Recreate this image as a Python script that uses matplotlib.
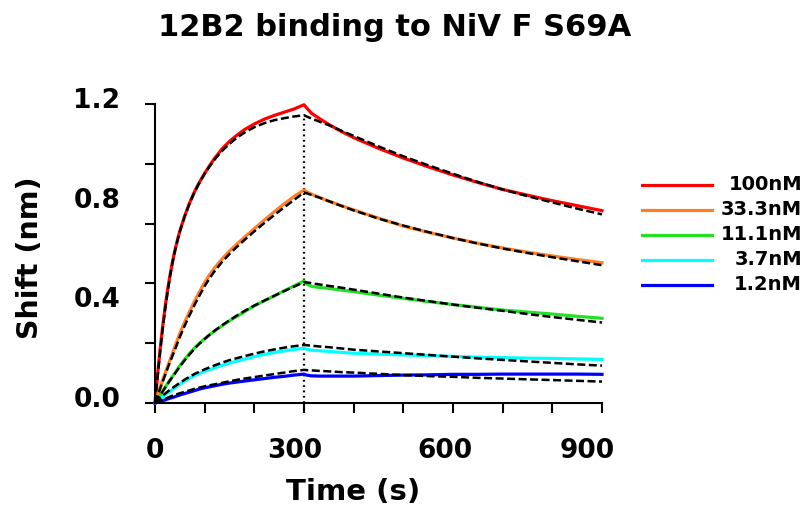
import numpy as np
import matplotlib
matplotlib.use("Agg")
import matplotlib.pyplot as plt
import matplotlib as mpl
from matplotlib import transforms

mpl.rcParams['font.family'] = 'DejaVu Sans'
mpl.rcParams['font.weight'] = 'bold'
mpl.rcParams['axes.linewidth'] = 1.5

# time points (s): association 0-300, dissociation 300-900
time = [0, 5, 10, 15, 20, 25, 30, 35, 40, 45, 50, 60, 70, 80, 90, 100, 110, 120, 135, 150,
        165, 180, 200, 220, 240, 260, 280, 300,
        305, 315, 330, 350, 375, 400, 450, 500, 550, 600, 650, 700, 750, 800, 850, 900]

conc_labels = ['100nM', '33.3nM', '11.1nM', '3.7nM', '1.2nM']
colors = ['#FF0000', '#FF7F22', '#22E022', '#00FFFF', '#0000FF']

# measured shift (nm)
shift_100 = [0.0, 0.11, 0.21, 0.30, 0.38, 0.45, 0.51, 0.565, 0.612, 0.653, 0.69, 0.752, 0.805, 0.85, 0.888, 0.922, 0.953, 0.982, 1.02, 1.05,
             1.075, 1.097, 1.12, 1.139, 1.154, 1.167, 1.18, 1.197,
             1.185, 1.163, 1.143, 1.118, 1.09, 1.065, 1.022, 0.983, 0.948, 0.915, 0.885, 0.857, 0.834, 0.812, 0.792, 0.772]
shift_33 = [0.0, 0.03, 0.06, 0.09, 0.117, 0.145, 0.172, 0.199, 0.226, 0.253, 0.28, 0.326, 0.369, 0.41, 0.448, 0.484, 0.515, 0.542, 0.578, 0.61,
            0.638, 0.665, 0.70, 0.734, 0.767, 0.799, 0.829, 0.855,
            0.848, 0.838, 0.826, 0.81, 0.792, 0.775, 0.742, 0.71, 0.685, 0.662, 0.641, 0.622, 0.605, 0.59, 0.576, 0.563]
shift_11 = [0.0, 0.015, 0.03, 0.046, 0.062, 0.077, 0.092, 0.106, 0.12, 0.135, 0.15, 0.176, 0.20, 0.222, 0.241, 0.258, 0.274, 0.289, 0.31, 0.33,
            0.348, 0.366, 0.39, 0.41, 0.43, 0.45, 0.47, 0.49,
            0.478, 0.468, 0.464, 0.46, 0.453, 0.447, 0.433, 0.42, 0.407, 0.395, 0.384, 0.373, 0.365, 0.357, 0.348, 0.34]
shift_3 = [0.0, 0.008, 0.016, 0.024, 0.032, 0.04, 0.047, 0.054, 0.061, 0.068, 0.075, 0.088, 0.10, 0.11, 0.119, 0.127, 0.134, 0.141, 0.151, 0.16,
           0.168, 0.176, 0.186, 0.195, 0.203, 0.209, 0.215, 0.22,
           0.216, 0.212, 0.21, 0.207, 0.203, 0.20, 0.196, 0.193, 0.19, 0.187, 0.184, 0.182, 0.18, 0.179, 0.177, 0.175]
shift_1 = [0.0, 0.003, 0.006, 0.009, 0.012, 0.016, 0.019, 0.022, 0.025, 0.029, 0.032, 0.038, 0.044, 0.05, 0.056, 0.061, 0.065, 0.069, 0.075, 0.08,
           0.084, 0.088, 0.093, 0.098, 0.103, 0.107, 0.112, 0.116,
           0.112, 0.109, 0.108, 0.108, 0.108, 0.108, 0.11, 0.112, 0.113, 0.115, 0.115, 0.116, 0.116, 0.116, 0.116, 0.115]

# global fit curves (nm)
fit_100 = [0.0, 0.10, 0.20, 0.29, 0.37, 0.44, 0.505, 0.56, 0.608, 0.65, 0.688, 0.75, 0.803, 0.848, 0.886, 0.92, 0.95, 0.977, 1.012, 1.04,
           1.065, 1.085, 1.107, 1.123, 1.135, 1.143, 1.15, 1.155,
           1.15, 1.142, 1.13, 1.115, 1.093, 1.072, 1.03, 0.99, 0.954, 0.92, 0.887, 0.857, 0.83, 0.805, 0.78, 0.757]
fit_33 = [0.0, 0.028, 0.056, 0.083, 0.11, 0.137, 0.163, 0.188, 0.213, 0.239, 0.265, 0.311, 0.354, 0.395, 0.433, 0.469, 0.501, 0.529, 0.566, 0.598,
          0.627, 0.654, 0.689, 0.722, 0.754, 0.785, 0.815, 0.845,
          0.842, 0.835, 0.825, 0.81, 0.791, 0.773, 0.74, 0.712, 0.686, 0.662, 0.64, 0.62, 0.602, 0.585, 0.569, 0.553]
fit_11 = [0.0, 0.015, 0.03, 0.045, 0.06, 0.075, 0.09, 0.104, 0.118, 0.132, 0.146, 0.172, 0.196, 0.219, 0.239, 0.257, 0.274, 0.29, 0.312, 0.332,
          0.351, 0.369, 0.391, 0.411, 0.43, 0.449, 0.467, 0.485,
          0.484, 0.481, 0.476, 0.47, 0.463, 0.455, 0.439, 0.423, 0.409, 0.395, 0.382, 0.37, 0.357, 0.345, 0.334, 0.323]
fit_3 = [0.0, 0.01, 0.02, 0.029, 0.037, 0.045, 0.053, 0.06, 0.067, 0.074, 0.081, 0.094, 0.106, 0.117, 0.126, 0.135, 0.143, 0.151, 0.162, 0.172,
         0.18, 0.188, 0.198, 0.207, 0.215, 0.222, 0.228, 0.233,
         0.232, 0.23, 0.227, 0.224, 0.219, 0.214, 0.207, 0.20, 0.193, 0.186, 0.179, 0.173, 0.167, 0.161, 0.155, 0.15]
fit_1 = [0.0, 0.005, 0.009, 0.013, 0.017, 0.021, 0.025, 0.029, 0.032, 0.036, 0.039, 0.045, 0.051, 0.057, 0.062, 0.067, 0.071, 0.075, 0.081, 0.087,
         0.093, 0.098, 0.104, 0.11, 0.116, 0.122, 0.128, 0.133,
         0.132, 0.131, 0.129, 0.127, 0.124, 0.122, 0.117, 0.112, 0.108, 0.105, 0.101, 0.098, 0.095, 0.092, 0.089, 0.086]

shifts = [shift_100, shift_33, shift_11, shift_3, shift_1]
fits = [fit_100, fit_33, fit_11, fit_3, fit_1]

x_ticklabels = ['0', '300', '600', '900']
y_ticklabels = ['0.0', '0.4', '0.8', '1.2']

W, H = 806, 514
fig = plt.figure(figsize=(W / 100, H / 100), dpi=100)
ax = fig.add_axes([155 / W, 1 - 403 / H, (602 - 155) / W, (403 - 104) / H])

t = np.array(time)
for s, c in zip(shifts, colors):
    ax.plot(t, s, color=c, lw=2.3, clip_on=False, zorder=2)
for f in fits:
    ax.plot(t, f, color='black', lw=1.8, dashes=(3.2, 1.4), clip_on=False, zorder=3)

ax.vlines(300, 0, max(fit_100), colors='black', linestyles=(0, (0.8, 1.6)), lw=1.6, zorder=1)

ax.set_xlim(0, 900)
ax.set_ylim(0, 1.2)
for sp in ['top', 'right']:
    ax.spines[sp].set_visible(False)

ax.set_xticks([0, 300, 600, 900])
ax.set_xticklabels(x_ticklabels)
ax.set_xticks(np.arange(0, 901, 100), minor=True)
ax.set_yticks([0, 0.4, 0.8, 1.2])
ax.set_yticklabels(y_ticklabels)
ax.set_yticks(np.linspace(0, 1.2, 6), minor=True)
ax.yaxis.remove_overlapping_locs = False

ax.tick_params(axis='x', which='both', direction='out', length=7.2, width=1.5, labelsize=19, pad=18)
ax.tick_params(axis='y', which='major', length=0, labelsize=19, pad=25)
ax.tick_params(axis='y', which='minor', direction='out', length=7.2, width=1.5)

# label positions as in the original
x_shift = [0, -9, -8, -15]
for lab, dx in zip(ax.get_xticklabels(), x_shift):
    lab.set_transform(lab.get_transform() + transforms.ScaledTranslation(dx / 100, 0, fig.dpi_scale_trans))
for lab in ax.get_yticklabels():
    lab.set_transform(lab.get_transform() + transforms.ScaledTranslation(0, 6 / 100, fig.dpi_scale_trans))

fig.text(395 / W, 1 - 36 / H, '12B2 binding to NiV F S69A', ha='center', va='baseline', fontsize=22, fontweight='bold')
fig.text(353 / W, 1 - 500 / H, 'Time (s)', ha='center', va='baseline', fontsize=21, fontweight='bold')
fig.text(30 / W, 1 - 258 / H, 'Shift (nm)', ha='center', va='center', rotation=90, fontsize=20.5, fontweight='bold')

# legend
lax = fig.add_axes([641 / W, 1 - 297 / H, (804 - 641) / W, (297 - 173) / H])
lax.set_xlim(0, 163)
lax.set_ylim(297, 173)
lax.axis('off')
for i, (lbl, c) in enumerate(zip(conc_labels, colors)):
    yy = 185 + 25 * i
    lax.plot([0, 71], [yy, yy], color=c, lw=2.3)
    lax.text(161, yy, lbl, ha='right', va='center', fontsize=14, fontweight='bold')

fig.savefig('out.png', dpi=100)
